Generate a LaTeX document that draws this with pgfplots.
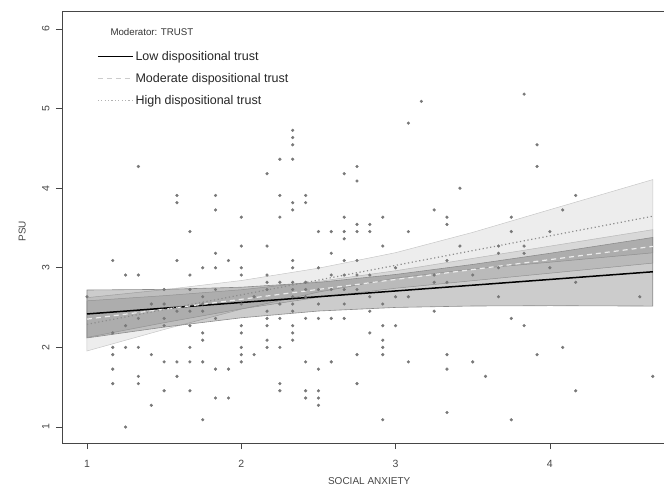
\documentclass[border=0pt]{standalone}
\usepackage{pgfplots}
\pgfplotsset{compat=1.18}
\usepackage{fontspec}
\setmainfont{Liberation Sans}
\definecolor{axisgray}{RGB}{70,70,70}
\definecolor{dotgray}{RGB}{120,120,120}

\begin{document}
\begin{tikzpicture}
\useasboundingbox (-62pt,-45pt) rectangle (602pt,443pt);
\begin{axis}[
    scale only axis,
    width=614.4pt, height=432pt,
    xmin=0.838, xmax=4.82,
    ymin=0.799, ymax=6.226,
    axis line style={axisgray, line width=0.8pt},
    xtick={1,2,3,4}, ytick={1,2,3,4,5,6},
    xtick pos=bottom, ytick pos=left,
    tick align=outside,
    major tick length=6pt,
    tick style={axisgray, line width=0.7pt},
    ticklabel style={font=\fontsize{10.5}{12}\selectfont, text=axisgray},
    /pgf/number format/assume math mode=true,
    yticklabel style={rotate=90, anchor=south},
    xticklabel shift=8pt,
    yticklabel shift=3pt,
    xlabel={SOCIAL ANXIETY},
    ylabel={PSU},
    label style={font=\fontsize{10}{12}\selectfont, text=axisgray},
    xlabel style={at={(axis description cs:0.5,-0.087)}, anchor=center},
    ylabel style={at={(axis description cs:-0.065,0.49)}, anchor=center},
    legend style={at={(axis description cs:0.057,0.912)}, anchor=north west,
        draw=none, fill=none, font=\fontsize{12.5}{14}\selectfont,
        text=black!85, row sep=7.5pt, inner sep=0pt,
        /tikz/every even column/.append style={column sep=5pt}},
    legend cell align=left,
    legend image code/.code={\draw[#1] (0pt,0pt) -- (35pt,0pt);},
]

% confidence bands
\addplot[forget plot, draw=black!22, fill=black, fill opacity=0.07, line width=0.5pt] coordinates {
  (1,2.625) (1.5,2.725) (2,2.84) (2.5,2.995) (3,3.19) (3.5,3.445) (4,3.73) (4.667,4.108)
  (4.667,3.188) (4,3.07) (3.5,2.985) (3,2.87) (2.5,2.695) (2,2.48) (1.5,2.225) (1,1.955)
} -- cycle;
\addplot[forget plot, draw=black!28, fill=black, fill opacity=0.09, line width=0.5pt] coordinates {
  (1,2.585) (1.5,2.65) (2,2.724) (2.5,2.829) (3,2.963) (3.5,3.118) (4,3.272) (4.667,3.479)
  (4.667,3.059) (4,2.932) (3.5,2.838) (3,2.743) (2.5,2.629) (2,2.484) (1.5,2.31) (1,2.125)
} -- cycle;
\addplot[forget plot, draw=black!45, fill=black, fill opacity=0.20, line width=0.6pt] coordinates {
  (1,2.721) (1.5,2.729) (2,2.756) (2.5,2.817) (3,2.916) (3.5,3.042) (4,3.182) (4.667,3.381)
  (4.667,2.519) (4,2.524) (3.5,2.520) (3,2.502) (2.5,2.457) (2,2.372) (1.5,2.255) (1,2.119)
} -- cycle;

% observations
\addplot[forget plot, only marks, mark=*, mark size=1.4pt, dotgray] coordinates {
  (2.333,4.727) (2.333,4.636) (2.333,4.545) (2.25,4.364) (2.333,4.364)
  (1.333,4.273) (2.75,4.273) (2.167,4.182) (2.667,4.182) (2.75,4.091)
  (1.583,3.909) (1.833,3.909) (2.25,3.909) (2.417,3.909)
  (1.583,3.818) (2.333,3.818) (2.417,3.818) (1.833,3.727) (2.333,3.727)
  (2,3.636) (2.25,3.636) (2.667,3.636) (2.75,3.545)
  (1.667,3.455) (2.5,3.455) (2.583,3.455) (2.667,3.455) (2.75,3.455) (2.667,3.364)
  (2,3.273) (2.167,3.273) (1.833,3.182) (2.583,3.182)
  (1.167,3.091) (1.583,3.091) (1.917,3.091) (2.333,3.091) (2.667,3.091) (2.75,3.091)
  (1.75,3) (1.833,3) (2,3) (2.333,3) (2.5,3)
  (1.25,2.909) (1.333,2.909) (1.667,2.909) (2,2.909) (2.167,2.909) (2.583,2.909) (2.667,2.909) (2.75,2.909)
  (2.167,2.818) (2.25,2.818) (2.333,2.818) (2.417,2.818)
  (1.5,2.727) (1.667,2.727) (1.833,2.727) (2.167,2.727) (2.333,2.727) (2.417,2.727) (2.5,2.727) (2.583,2.727) (2.667,2.727) (2.75,2.727)
  (1,2.636) (1.75,2.636) (2.083,2.636) (2.333,2.636) (2.417,2.636)
  (1.417,2.545) (1.5,2.545) (1.75,2.545) (2,2.545) (2.25,2.545) (2.333,2.545) (2.5,2.545) (2.667,2.545)
  (1.583,2.455) (1.667,2.455) (1.75,2.455) (2.167,2.455) (2.333,2.455)
  (1.333,2.364) (1.5,2.364) (1.833,2.364) (2.167,2.364) (2.25,2.364) (2.417,2.364) (2.5,2.364) (2.583,2.364) (2.667,2.364)
  (1.25,2.273) (1.5,2.273) (1.667,2.273) (2,2.273) (2.167,2.273) (2.333,2.273)
  (1.167,2.182) (1.75,2.182) (2,2.182) (2.333,2.182)
  (1.75,2.091) (2.167,2.091) (2.333,2.091)
  (1.167,2) (1.25,2) (1.333,2) (1.667,2) (2,2) (2.167,2) (2.25,2)
  (1.167,1.909) (1.417,1.909) (2,1.909) (2.083,1.909) (2.75,1.909)
  (1.5,1.818) (1.583,1.818) (1.667,1.818) (1.75,1.818) (2,1.818) (2.417,1.818) (2.583,1.818)
  (1.167,1.727) (1.833,1.727) (1.917,1.727) (2.5,1.727)
  (1.333,1.636) (1.583,1.636)
  (1.167,1.545) (1.333,1.545) (2.25,1.545) (2.75,1.545)
  (1.5,1.455) (1.667,1.455) (2.25,1.455) (2.417,1.455) (2.5,1.455)
  (1.833,1.364) (1.917,1.364) (2.417,1.364) (2.5,1.364)
  (1.417,1.273) (2.5,1.273) (1.75,1.091) (1.25,1)
  (3.833,5.182) (3.167,5.091) (3.083,4.818) (3.917,4.545) (3.917,4.273)
  (3.417,4) (4.167,3.909) (3.25,3.727) (4.083,3.727)
  (2.917,3.636) (3.333,3.636) (3.75,3.636) (2.833,3.545) (3.333,3.545)
  (2.833,3.455) (3.083,3.455) (3.75,3.455) (4,3.455)
  (2.917,3.273) (3.417,3.273) (3.667,3.273) (3.833,3.273)
  (3.667,3.182) (3.833,3.182) (3.333,3.091)
  (3,3) (3.667,3) (4,3) (2.833,2.909) (3.25,2.909) (3.5,2.909)
  (3.25,2.818) (3.333,2.818) (4.167,2.818)
  (2.833,2.636) (3,2.636) (3.083,2.636) (3.667,2.636) (4.583,2.636)
  (2.917,2.545) (2.833,2.455) (3.25,2.455) (3.75,2.364)
  (2.917,2.273) (3,2.273) (3.833,2.273) (2.833,2.182) (2.917,2.091)
  (2.917,2) (4.083,2) (2.917,1.909) (3.333,1.909) (3.917,1.909)
  (3.083,1.818) (3.5,1.818) (3.333,1.727) (3.583,1.636) (4.667,1.636)
  (4.167,1.455) (3.333,1.182) (2.917,1.091) (3.75,1.091)
};

% simple slopes
\addplot[forget plot, black, line width=1.5pt] coordinates {(1,2.42) (4.667,2.95)};
\addplot[forget plot, black!8, line width=1.2pt, dash pattern=on 5pt off 4pt] coordinates {(1,2.355) (4.667,3.269)};
\addplot[forget plot, black!45, line width=1.2pt, dash pattern=on 1.2pt off 2.6pt] coordinates {(1,2.29) (4.667,3.648)};

\addlegendimage{black, line width=1.3pt}
\addlegendentry{Low dispositional trust}
\addlegendimage{black!20, line width=1pt, dash pattern=on 5pt off 4pt}
\addlegendentry{Moderate dispositional trust}
\addlegendimage{black!30, line width=1pt, dash pattern=on 1.2pt off 2.2pt}
\addlegendentry{High dispositional trust}

\node[anchor=west, font=\fontsize{9.7}{11}\selectfont, text=black!80]
  at (axis description cs:0.0732,0.952) {Moderator: TRUST};
\end{axis}
\end{tikzpicture}
\end{document}
